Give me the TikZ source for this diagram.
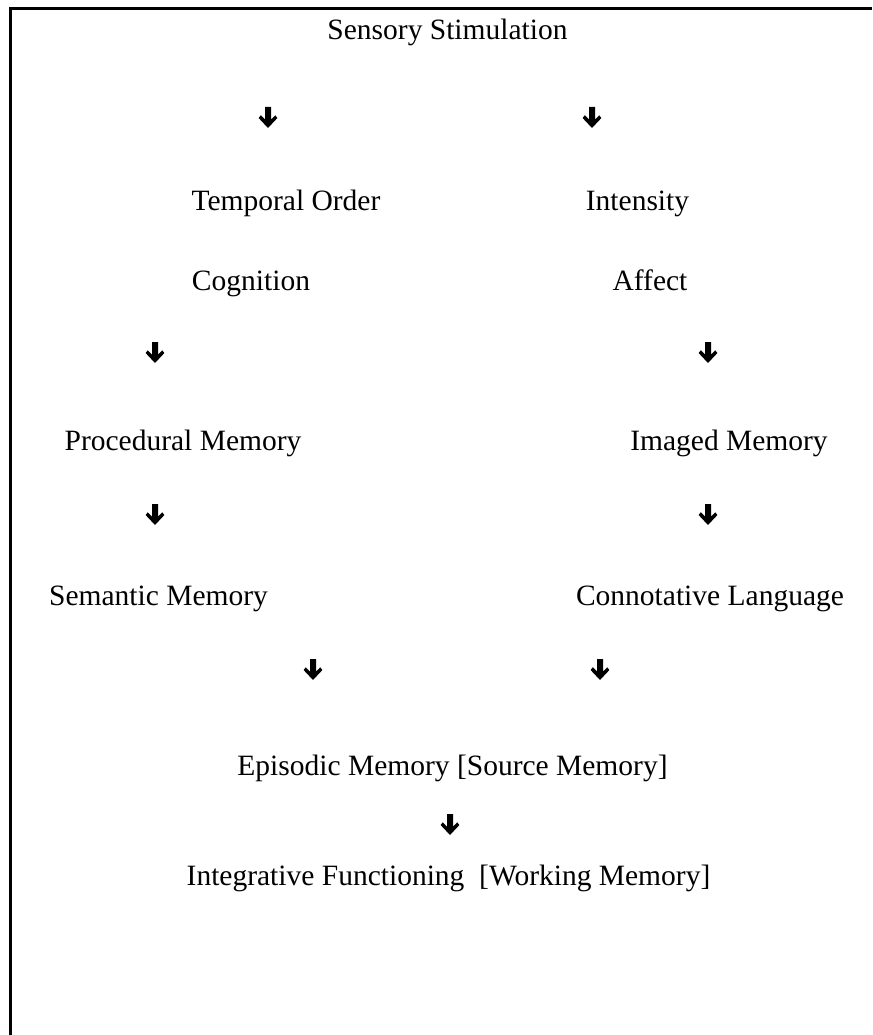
\documentclass[tikz,border=0pt]{standalone}
\usepackage{fontspec}
\setmainfont{Liberation Serif}
\begin{document}
\begin{tikzpicture}[x=1pt,y=-1pt,
  label/.style={anchor=base,inner sep=0pt,font=\fontsize{29.5}{35}\selectfont},
  pics/heavydown/.style={code={
    \fill[black] (-3,0) -- (3,0) -- (3,12.5) -- (7.2,8.3) -- (9.4,11)
      -- (0,21) -- (-9.4,11) -- (-7.2,8.3) -- (-3,12.5) -- cycle;}}]
  \useasboundingbox (0,0) rectangle (872,1035);
  % frame: top and left rules only
  \draw[line width=3pt] (10,1035) |- (872,9);

  % labels
  \node[label] (sens)  at (447.5,40)  {Sensory Stimulation};
  \node[label] (temp)  at (286,210)   {Temporal Order};
  \node[label] (inten) at (637.5,210) {Intensity};
  \node[label] (cogn)  at (251,290)   {Cognition};
  \node[label] (aff)   at (650,290)   {Affect};
  \node[label] (proc)  at (183,450)   {Procedural Memory};
  \node[label] (imag)  at (729,450)   {Imaged Memory};
  \node[label] (sem)   at (158.5,605) {Semantic Memory};
  \node[label] (conn)  at (710,605)   {Connotative Language};
  \node[label] (epis)  at (452.5,775) {Episodic Memory [Source Memory]};
  \node[label] (integ) at (448.5,885) {Integrative Functioning\ \ [Working Memory]};

  % arrow glyph positions (centre of shaft top)
  \coordinate (a1) at (268,107);
  \coordinate (a2) at (592,107);
  \coordinate (a3) at (155,342);
  \coordinate (a4) at (708,342);
  \coordinate (a5) at (155,504);
  \coordinate (a6) at (708,504);
  \coordinate (a7) at (313,659);
  \coordinate (a8) at (600,659);
  \coordinate (a9) at (450,814);
  \foreach \c in {a1,a2,a3,a4,a5,a6,a7,a8,a9}
    \pic at (\c) {heavydown};
\end{tikzpicture}
\end{document}
